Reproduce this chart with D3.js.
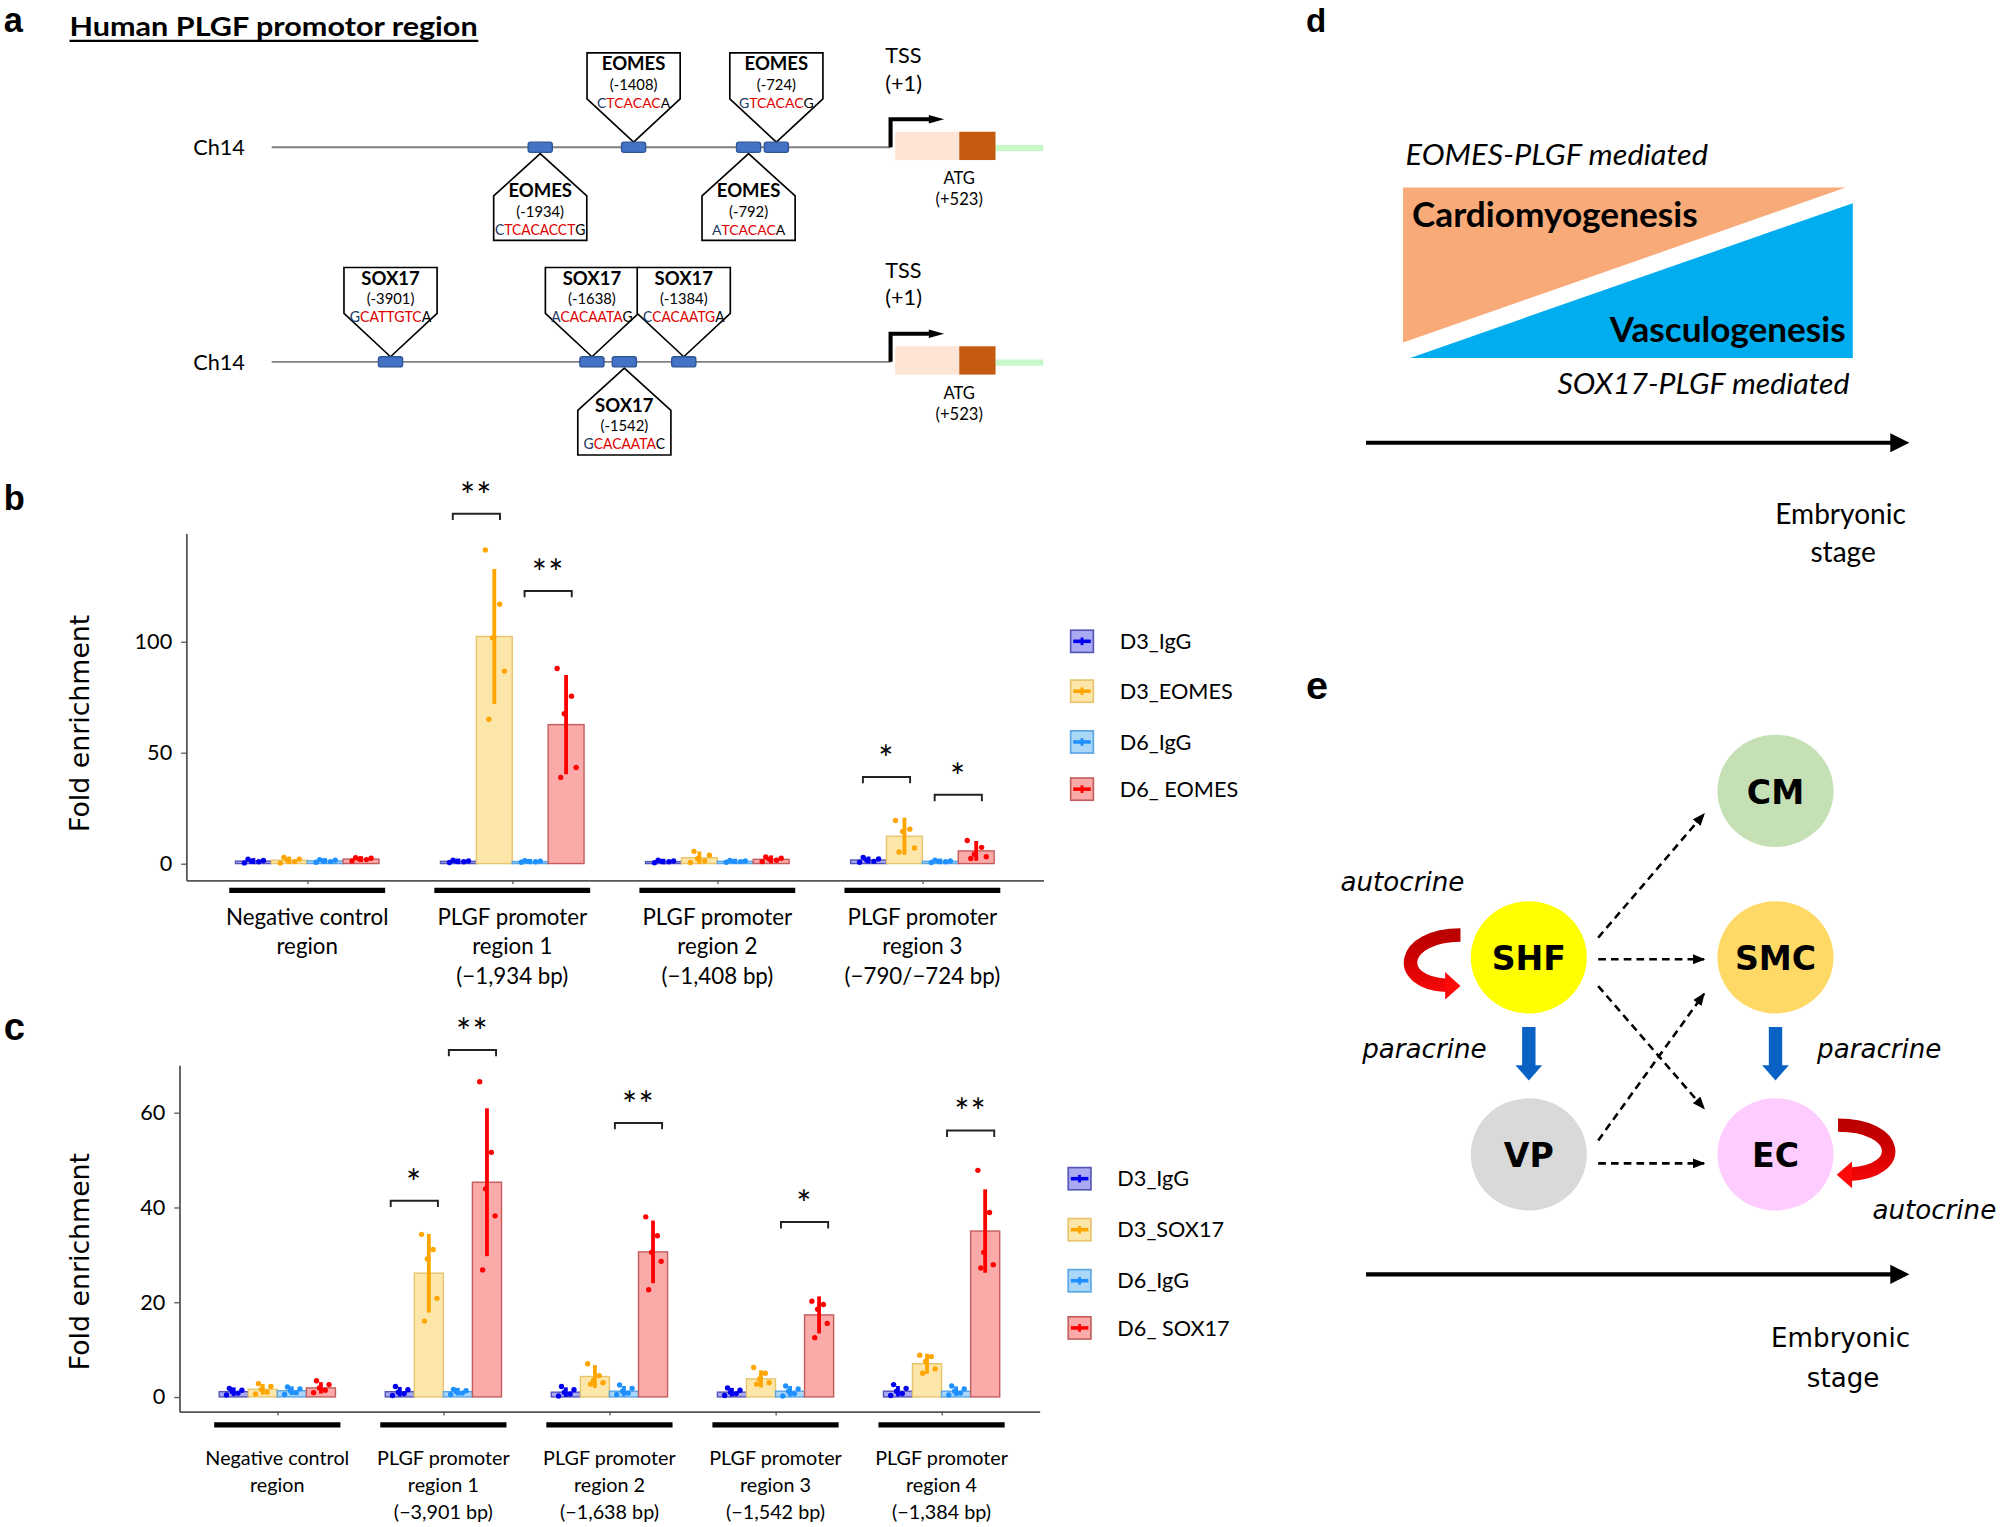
<!DOCTYPE html>
<html>
<head>
<meta charset="utf-8">
<script src="https://cdn.jsdelivr.net/npm/d3@7"></script>
<style>
  body { margin: 0; background: #fff; }
</style>
</head>
<body>
<div id="canvas"></div>
<script>
// ---------- data ----------
// panel a: binding sites on a schematic track (0 = left end, 100 = right end)
const eomesSites = [
  {name: "EOMES", pos: "(-1934)", seq: ["C", "TCACACCT", "G"], at: 34.8, side: "below"},
  {name: "EOMES", pos: "(-1408)", seq: ["C", "TCACAC", "A"], at: 46.9, side: "above"},
  {name: "EOMES", pos: "(-792)", seq: ["A", "TCACAC", "A"], at: 61.8, side: "below"},
  {name: "EOMES", pos: "(-724)", seq: ["G", "TCACAC", "G"], at: 65.4, side: "above"}
];
const soxSites = [
  {name: "SOX17", pos: "(-3901)", seq: ["G", "CATTGTC", "A"], at: 15.4, side: "above"},
  {name: "SOX17", pos: "(-1638)", seq: ["A", "CACAATA", "G"], at: 41.5, side: "above"},
  {name: "SOX17", pos: "(-1542)", seq: ["G", "CACAATA", "C"], at: 45.7, side: "below"},
  {name: "SOX17", pos: "(-1384)", seq: ["C", "CACAATG", "A"], at: 53.4, side: "above"}
];
const geneMarks = {tss: 80.2, start: 80.8, atg: 89.1, end: 93.8};

// panel b: EOMES ChIP
const seriesB = ["D3_IgG", "D3_EOMES", "D6_IgG", "D6_ EOMES"];
const groupsB = [["Negative control", "region"], ["PLGF promoter", "region 1", "(\u22121,934 bp)"],
  ["PLGF promoter", "region 2", "(\u22121,408 bp)"], ["PLGF promoter", "region 3", "(\u2212790/\u2212724 bp)"]];
const meanB = [[1.1, 1.5, 1.2, 2.0], [1.0, 102.3, 0.9, 62.6], [0.9, 2.6, 1.0, 1.9], [1.6, 12.3, 1.0, 5.7]];
const sdB = [[0.5, 0.8, 0.4, 0.5], [0.4, 29.5, 0.3, 21.5], [0.4, 2.0, 0.3, 0.9], [0.7, 7.5, 0.4, 3.6]];
const pointsB = [
  [[0.3, 0.8, 1.0, 1.4, 2.0], [0.2, 0.9, 1.5, 2.0, 2.8], [0.6, 0.9, 1.2, 1.5, 1.8], [1.2, 1.8, 2.0, 2.4, 2.7]],
  [[0.5, 0.8, 1.0, 1.2, 1.5], [141.3, 116.8, 101.7, 86.7, 65.0], [0.6, 0.8, 1.0, 1.1, 1.3], [87.9, 75.4, 67.5, 43.3, 38.8]],
  [[0.4, 0.8, 1.0, 1.2, 1.5], [0.5, 1.2, 2.2, 3.8, 5.5], [0.6, 0.9, 1.0, 1.2, 1.4], [0.9, 1.5, 1.9, 2.4, 3.0]],
  [[0.6, 1.0, 1.5, 2.1, 2.8], [19.4, 15.5, 14.5, 7.0, 5.2], [0.5, 0.8, 1.0, 1.2, 1.5], [10.4, 7.3, 4.2, 3.1, 2.3]]
];
const sigB = [{group: 1, day: "D3", label: "**", y: 157.6}, {group: 1, day: "D6", label: "**", y: 122.8},
  {group: 3, day: "D3", label: "*", y: 39}, {group: 3, day: "D6", label: "*", y: 31}];
const ticksB = [0, 50, 100];

// panel c: SOX17 ChIP
const seriesC = ["D3_IgG", "D3_SOX17", "D6_IgG", "D6_ SOX17"];
const groupsC = [["Negative control", "region"], ["PLGF promoter", "region 1", "(\u22123,901 bp)"],
  ["PLGF promoter", "region 2", "(\u22121,638 bp)"], ["PLGF promoter", "region 3", "(\u22121,542 bp)"],
  ["PLGF promoter", "region 4", "(\u22121,384 bp)"]];
const meanC = [[1.1, 1.6, 1.3, 1.9], [1.1, 26.1, 1.1, 45.3], [1.0, 4.3, 1.2, 30.6], [1.0, 3.8, 1.2, 17.3], [1.2, 7.0, 1.2, 35.0]];
const sdC = [[0.5, 0.7, 0.5, 0.8], [0.6, 7.9, 0.4, 15.2], [0.6, 2.0, 0.7, 6.2], [0.5, 1.4, 0.7, 3.5], [0.7, 1.7, 0.6, 8.4]];
const pointsC = [
  [[0.4, 0.8, 1.1, 1.4, 1.8], [0.6, 1.0, 1.6, 2.2, 2.8], [0.5, 0.9, 1.3, 1.7, 2.1], [0.9, 1.4, 1.9, 2.6, 3.4]],
  [[0.3, 0.7, 1.0, 1.5, 2.2], [34.3, 31.1, 29.1, 20.8, 16.0], [0.5, 0.8, 1.1, 1.3, 1.6], [66.5, 51.6, 43.9, 38.2, 26.8]],
  [[0.2, 0.6, 1.0, 1.5, 2.2], [7.0, 4.5, 3.5, 3.0, 2.7], [0.5, 0.8, 1.2, 1.8, 2.5], [38.0, 34.0, 30.5, 28.6, 22.6]],
  [[0.3, 0.7, 1.0, 1.4, 1.9], [6.2, 5.0, 3.8, 3.0, 2.7], [0.2, 0.7, 1.2, 1.7, 2.3], [20.2, 19.5, 18.5, 15.5, 12.5]],
  [[0.3, 0.7, 1.2, 1.8, 2.6], [8.8, 8.5, 7.5, 5.9, 5.0], [0.4, 0.8, 1.2, 1.7, 2.3], [47.8, 38.9, 30.5, 27.9, 27.2]]
];
const sigC = [{group: 1, day: "D3", label: "*", y: 41.4}, {group: 1, day: "D6", label: "**", y: 73.2},
  {group: 2, day: "D6", label: "**", y: 57.8}, {group: 3, day: "D6", label: "*", y: 36.9},
  {group: 4, day: "D6", label: "**", y: 56.2}];
const ticksC = [0, 20, 40, 60];

// panel e: cell types and links
const cells = [
  {id: "CM", col: 1, row: 0, fill: "#c5e0b4"},
  {id: "SHF", col: 0, row: 1, fill: "#ffff00"},
  {id: "SMC", col: 1, row: 1, fill: "#ffd966"},
  {id: "VP", col: 0, row: 2, fill: "#d9d9d9"},
  {id: "EC", col: 1, row: 2, fill: "#ffccff"}
];
const links = [
  {from: "SHF", to: "CM", dy0: -15.5, dy1: 18},
  {from: "SHF", to: "SMC", dy0: 1.5, dy1: 1.5},
  {from: "SHF", to: "EC", dy0: 22.5, dy1: -36},
  {from: "VP", to: "SMC", dy0: -11, dy1: 28.5},
  {from: "VP", to: "EC", dy0: 7, dy1: 7}
];

// ---------- style ----------
const SANS = "Lato, 'Open Sans', sans-serif";
const WIDE = "'DejaVu Sans', Verdana, sans-serif";
const POINT = ["#0000ee", "#ffa500", "#1e90ff", "#ff0000"];
const FILL = ["#aaaaf2", "#fde6aa", "#aad6f7", "#fbaaaa"];
const EDGE = ["#5555b8", "#e6c46c", "#5aa6e4", "#c45c5c"];
const JIT = [-0.25, 0.15, -0.05, 0.28, -0.15];

const svg = d3.select("#canvas").append("svg")
  .attr("width", 2000).attr("height", 1527)
  .attr("viewBox", "0 0 1568 1197");

const defs = svg.append("defs");
defs.append("marker").attr("id", "dash-head").attr("viewBox", "0 0 10 8")
  .attr("refX", 9).attr("refY", 4).attr("markerWidth", 10).attr("markerHeight", 8)
  .attr("markerUnits", "userSpaceOnUse").attr("orient", "auto")
  .append("path").attr("d", "M0,0L10,4L0,8Z").attr("fill", "#000");

function txt(g, x, y, s, size, opts = {}) {
  const t = g.append("text").attr("x", x).attr("y", y).text(s)
    .attr("font-family", opts.family || SANS).attr("font-size", size)
    .attr("fill", opts.fill || "#000");
  if (opts.anchor) t.attr("text-anchor", opts.anchor);
  if (opts.weight) t.attr("font-weight", opts.weight);
  if (opts.italic) t.attr("font-style", "italic");
  if (opts.len) t.attr("textLength", opts.len).attr("lengthAdjust", "spacingAndGlyphs");
  if (opts.central) t.attr("dominant-baseline", "central");
  return t;
}

// panel letters
const LETTER = "'Liberation Sans', Arial, sans-serif";
[["a", 3, 25, 27], ["b", 3, 400, 27], ["c", 3, 815, 30], ["d", 1024, 25, 26], ["e", 1024, 548, 31]]
  .forEach(([s, x, y, f]) => txt(svg, x, y, s, f, {weight: "bold", family: LETTER}));

// ---------- panel a ----------
const pa = svg.append("g");
txt(pa, 54.5, 28.2, "Human PLGF promotor region", 21, {weight: "bold", len: 320});
pa.append("line").attr("x1", 54.5).attr("x2", 375).attr("y1", 32).attr("y2", 32)
  .attr("stroke", "#000").attr("stroke-width", 1.8);

const trackX = d3.scaleLinear().domain([0, 100]).range([213, 818]);
const HW = 36.5;

function drawTrack(ty, sites) {
  const g = pa.append("g");
  txt(g, 192, ty, "Ch14", 17, {anchor: "end", central: true});
  g.append("line").attr("x1", trackX(0)).attr("x2", trackX(geneMarks.tss))
    .attr("y1", ty).attr("y2", ty).attr("stroke", "#808080").attr("stroke-width", 1.5);

  sites.forEach(s => {
    const x = trackX(s.at);
    let pts, ys;
    if (s.side === "above") {
      const top = ty - 74, sh = ty - 38, tip = ty - 4;
      pts = [[x - HW, top], [x + HW, top], [x + HW, sh], [x, tip], [x - HW, sh]];
      ys = [top + 8.2, top + 24.1, top + 38.4];
    } else {
      const tip = ty + 5, sh = ty + 38, bot = ty + 73;
      pts = [[x, tip], [x + HW, sh], [x + HW, bot], [x - HW, bot], [x - HW, sh]];
      ys = [tip + 28.6, tip + 44.6, tip + 59];
    }
    g.append("path").attr("d", d3.line()(pts) + "Z")
      .attr("fill", "#fff").attr("stroke", "#000").attr("stroke-width", 1.3);
    txt(g, x, ys[0], s.name, 14.5, {anchor: "middle", weight: "bold", central: true});
    txt(g, x, ys[1], s.pos, 11.6, {anchor: "middle", central: true});
    const n = s.seq.join("").length;
    const st = txt(g, x, ys[2], "", n > 8 ? 11.5 : 11, {anchor: "middle", central: true, len: n > 8 ? Math.min(n * 7.1, 71) : null});
    st.append("tspan").attr("fill", "#203864").text(s.seq[0]);
    st.append("tspan").attr("fill", "#e00000").text(s.seq[1]);
    st.append("tspan").attr("fill", "#000").text(s.seq[2]);
  });
  sites.forEach(s => {
    g.append("rect").attr("x", trackX(s.at) - 9.5).attr("y", ty - 4).attr("width", 19).attr("height", 8)
      .attr("rx", 2).attr("fill", "#4472c4").attr("stroke", "#2f5597").attr("stroke-width", 1);
  });

  // gene body
  g.append("line").attr("x1", trackX(geneMarks.end)).attr("x2", trackX(100))
    .attr("y1", ty + 0.6).attr("y2", ty + 0.6).attr("stroke", "#c8f8c8").attr("stroke-width", 4.8);
  g.append("rect").attr("x", trackX(geneMarks.start)).attr("y", ty - 12.2)
    .attr("width", trackX(geneMarks.atg) - trackX(geneMarks.start)).attr("height", 22.2).attr("fill", "#fde4d4");
  g.append("rect").attr("x", trackX(geneMarks.atg)).attr("y", ty - 12.2)
    .attr("width", trackX(geneMarks.end) - trackX(geneMarks.atg)).attr("height", 22.2).attr("fill", "#c55a11");
  // TSS arrow
  const tx = trackX(geneMarks.tss);
  g.append("path").attr("d", `M${tx},${ty}V${ty - 22}H${tx + 32}`)
    .attr("fill", "none").attr("stroke", "#000").attr("stroke-width", 3.2);
  g.append("path").attr("d", `M${tx + 30},${ty - 25.3}L${tx + 42},${ty - 22}L${tx + 30},${ty - 18.7}Z`).attr("fill", "#000");
  txt(g, 694, ty - 65.7, "TSS", 17);
  txt(g, 694, ty - 44.4, "(+1)", 17);
  txt(g, trackX(geneMarks.atg), ty + 29, "ATG", 13, {anchor: "middle"});
  txt(g, trackX(geneMarks.atg), ty + 45.3, "(+523)", 13, {anchor: "middle"});
}
drawTrack(115.4, eomesSites);
drawTrack(283.6, soxSites);

// ---------- panels b, c ----------
function barPanel(o) {
  const g = svg.append("g");
  const x = d3.scalePoint().domain(d3.range(o.groups.length)).range([o.left, o.right]).padding(0.59);
  const y = d3.scaleLinear().domain(o.yDomain).range([o.bottom, o.top]);
  const step = x.step();
  const inner = d3.scaleBand().domain(d3.range(4)).range([-0.35 * step, 0.35 * step]);
  const bw = inner.bandwidth();
  const cx = (gi, si) => x(gi) + inner(si) + bw / 2;

  o.means.forEach((row, gi) => {
    row.forEach((m, si) => {
      g.append("rect").attr("x", x(gi) + inner(si)).attr("y", y(m))
        .attr("width", bw).attr("height", y(0) - y(m))
        .attr("fill", FILL[si]).attr("stroke", EDGE[si]).attr("stroke-width", 1.1);
    });
  });
  o.means.forEach((row, gi) => {
    row.forEach((m, si) => {
      const sd = o.sd[gi][si];
      g.append("line").attr("x1", cx(gi, si)).attr("x2", cx(gi, si))
        .attr("y1", y(Math.max(m - sd, 0))).attr("y2", y(m + sd))
        .attr("stroke", POINT[si]).attr("stroke-width", 3).attr("stroke-linecap", "square");
      g.selectAll(null).data(o.points[gi][si]).enter().append("circle")
        .attr("cx", (v, k) => cx(gi, si) + JIT[k] * bw).attr("cy", v => y(v))
        .attr("r", 2.1).attr("fill", POINT[si]);
    });
  });

  // axes
  const ya = g.append("g").attr("transform", `translate(${o.left},0)`)
    .call(d3.axisLeft(y).tickValues(o.ticks).tickSize(4).tickSizeOuter(0).tickPadding(7));
  const xa = g.append("g").attr("transform", `translate(0,${o.bottom})`)
    .call(d3.axisBottom(x).tickSize(3).tickSizeOuter(0).tickFormat(""));
  [ya, xa].forEach(a => {
    a.select(".domain").attr("stroke", "#555").attr("stroke-width", 1.4);
    a.selectAll(".tick line").attr("stroke", "#555");
  });
  ya.selectAll("text").attr("font-family", SANS).attr("font-size", o.tickFont).attr("fill", "#000");

  txt(g, 0, 0, "Fold enrichment", 21, {family: WIDE, anchor: "middle", central: true})
    .attr("transform", `translate(62,${o.labelY}) rotate(-90)`);

  // group bars and labels
  o.groups.forEach((lines, gi) => {
    g.append("line").attr("x1", x(gi) - 0.38 * step).attr("x2", x(gi) + 0.38 * step)
      .attr("y1", o.barY).attr("y2", o.barY).attr("stroke", "#000").attr("stroke-width", 4);
    lines.forEach((s, li) => txt(g, x(gi), o.labelY0 + li * o.labelDy, s, o.labelFont, {anchor: "middle"}));
  });

  // significance
  o.sig.forEach(s => {
    const a = s.day === "D3" ? 0 : 2;
    const mid = (cx(s.group, a) + cx(s.group, a + 1)) / 2;
    const yb = y(s.y);
    g.append("path").attr("d", `M${mid - 18.5},${yb + 5}V${yb}H${mid + 18.5}V${yb + 5}`)
      .attr("fill", "none").attr("stroke", "#222").attr("stroke-width", 1.5);
    txt(g, mid, yb - 4, s.label, 28, {anchor: "middle"}).attr("letter-spacing", 1);
  });

  // legend
  o.series.forEach((s, si) => {
    const ly = o.legY[si];
    g.append("rect").attr("x", o.legX).attr("y", ly - 8.7).attr("width", 17.8).attr("height", 17.4)
      .attr("fill", FILL[si]).attr("stroke", EDGE[si]).attr("stroke-width", 1.3);
    g.append("line").attr("x1", o.legX + 2).attr("x2", o.legX + 15.8).attr("y1", ly).attr("y2", ly)
      .attr("stroke", POINT[si]).attr("stroke-width", 2.8);
    g.append("line").attr("x1", o.legX + 8.9).attr("x2", o.legX + 8.9).attr("y1", ly - 3).attr("y2", ly + 3)
      .attr("stroke", POINT[si]).attr("stroke-width", 2.2);
    txt(g, o.legX + 38.5, ly + 6, s, 17);
  });
}

barPanel({
  groups: groupsB, series: seriesB, means: meanB, sd: sdB, points: pointsB, sig: sigB, ticks: ticksB,
  left: 146, right: 818, top: 418, bottom: 690, yDomain: [-7.5, 148.8],
  tickFont: 17, labelY: 567, barY: 698, labelY0: 725, labelDy: 23, labelFont: 17.5,
  legX: 839.4, legY: [502.7, 541.8, 581.6, 618.6]
});
barPanel({
  groups: groupsC, series: seriesC, means: meanC, sd: sdC, points: pointsC, sig: sigC, ticks: ticksC,
  left: 140.6, right: 815, top: 835, bottom: 1106.6, yDomain: [-3.1, 70],
  tickFont: 17, labelY: 989, barY: 1117, labelY0: 1148.5, labelDy: 21.2, labelFont: 15.5,
  legX: 837.5, legY: [924, 964, 1004, 1041]
});

// ---------- panel d ----------
const pd = svg.append("g");
pd.append("path").attr("d", d3.line()([[1100, 147], [1447, 147], [1100, 268.5]]) + "Z").attr("fill", "#f8aa79");
pd.append("path").attr("d", d3.line()([[1105.6, 280.5], [1452.6, 159.2], [1452.6, 280.5]]) + "Z").attr("fill", "#00adef");
txt(pd, 1102, 129, "EOMES-PLGF mediated", 22, {italic: true, len: 237});
txt(pd, 1107, 178, "Cardiomyogenesis", 27, {weight: "bold", len: 224});
txt(pd, 1447, 268, "Vasculogenesis", 27, {weight: "bold", anchor: "end", len: 185});
txt(pd, 1450, 309, "SOX17-PLGF mediated", 22, {italic: true, anchor: "end", len: 229});

function stageArrow(g, y, family, size, y1, y2) {
  g.append("line").attr("x1", 1071).attr("x2", 1484).attr("y1", y).attr("y2", y)
    .attr("stroke", "#000").attr("stroke-width", 3.2);
  g.append("path").attr("d", `M1482,${y - 7.5}L1497,${y}L1482,${y + 7.5}Z`).attr("fill", "#000");
  txt(g, 1443, y1, "Embryonic", size, {family, anchor: "middle"});
  txt(g, 1445, y2, "stage", size, {family, anchor: "middle"});
}
stageArrow(pd, 347, SANS, 22, 410.6, 440.8);

// ---------- panel e ----------
const pe = svg.append("g");
const colX = d3.scaleOrdinal([0, 1], [1198.6, 1392]);
const rowY = d3.scaleOrdinal([0, 1, 2], [620, 750.5, 905]);
const byId = Object.fromEntries(cells.map(c => [c.id, c]));

links.forEach(l => {
  const a = byId[l.from], b = byId[l.to];
  pe.append("line")
    .attr("x1", colX(a.col) + 54.4).attr("y1", rowY(a.row) + l.dy0)
    .attr("x2", colX(b.col) - 56).attr("y2", rowY(b.row) + l.dy1)
    .attr("stroke", "#000").attr("stroke-width", 2).attr("stroke-dasharray", "6,4")
    .attr("marker-end", "url(#dash-head)");
});

pe.selectAll("ellipse").data(cells).enter().append("ellipse")
  .attr("cx", c => colX(c.col)).attr("cy", c => rowY(c.row))
  .attr("rx", 45.5).attr("ry", 44).attr("fill", c => c.fill);
cells.forEach(c => txt(pe, colX(c.col), rowY(c.row) + 1, c.id, 26,
  {family: WIDE, weight: "bold", anchor: "middle", central: true}));

// blue paracrine arrows
[0, 1].forEach(col => {
  const x = colX(col);
  pe.append("path").attr("d", d3.line()([[x - 5.25, 805], [x + 5.25, 805], [x + 5.25, 835], [x + 10.5, 835],
    [x, 847], [x - 10.5, 835], [x - 5.25, 835]]) + "Z").attr("fill", "#0a63c4");
});

// red autocrine arrows
[["redgradL", 728, 782], ["redgradR", 877, 931]].forEach(([id, y1, y2]) => {
  const gr = defs.append("linearGradient").attr("id", id).attr("gradientUnits", "userSpaceOnUse")
    .attr("x1", 0).attr("x2", 0).attr("y1", y1).attr("y2", y2);
  gr.append("stop").attr("offset", "0%").attr("stop-color", "#b80000");
  gr.append("stop").attr("offset", "40%").attr("stop-color", "#cc0000");
  gr.append("stop").attr("offset", "100%").attr("stop-color", "#ff0a0a");
});
const redL = pe.append("g");
redL.append("path").attr("d", "M1145,733 C1098,733 1092,770 1134,772.5")
  .attr("fill", "none").attr("stroke", "url(#redgradL)").attr("stroke-width", 10.5);
redL.append("path").attr("d", "M1133,762L1145,773L1133,783.5Z").attr("fill", "#ff0a0a");
const redR = pe.append("g");
redR.append("path").attr("d", "M1441,882 C1490,882 1494,918 1451,920.5")
  .attr("fill", "none").attr("stroke", "url(#redgradR)").attr("stroke-width", 10.5);
redR.append("path").attr("d", "M1452,910.5L1440,921L1452,931.5Z").attr("fill", "#ff0a0a");

txt(pe, 1051, 698.7, "autocrine", 20.5, {family: WIDE, italic: true});
txt(pe, 1068, 829.6, "paracrine", 20.5, {family: WIDE, italic: true});
txt(pe, 1424.6, 829.6, "paracrine", 20.5, {family: WIDE, italic: true});
txt(pe, 1468, 955.9, "autocrine", 20.5, {family: WIDE, italic: true});

stageArrow(pe, 999, WIDE, 20.5, 1056, 1087);
</script>
</body>
</html>
